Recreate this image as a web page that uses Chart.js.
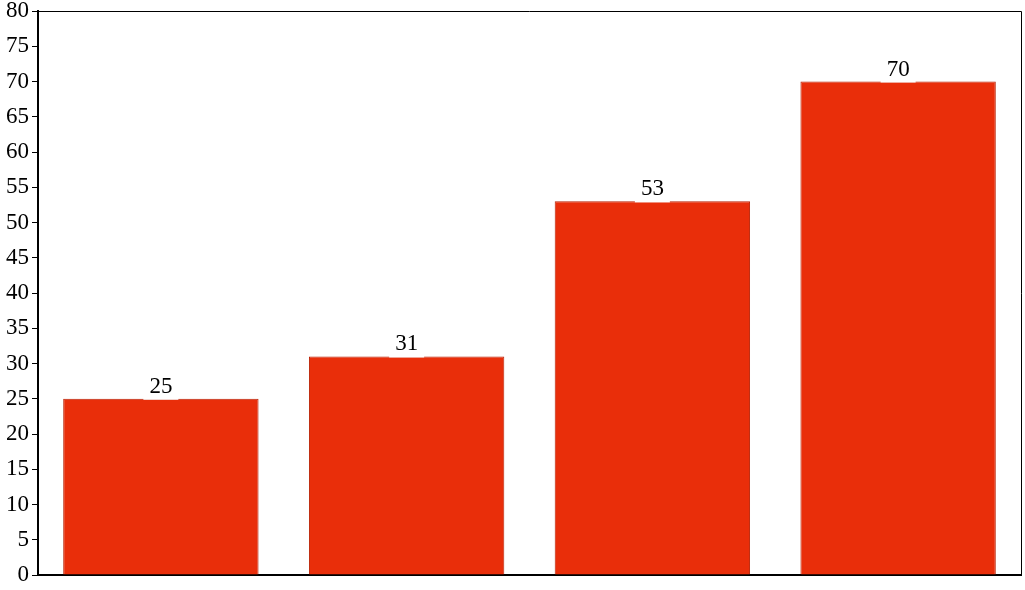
<!DOCTYPE html>
<html><head><meta charset="utf-8">
<script src="https://cdn.jsdelivr.net/npm/chart.js@4"></script>
<style>html,body{margin:0;padding:0;background:#fff}#wrap{width:1025px;height:590px}</style>
</head><body><div id="wrap"><canvas id="c" width="1025" height="590"></canvas></div>
<script>
const categories = ["A", "B", "C", "D"];
const values = [25, 31, 53, 70];
const yTicks = [0, 80, 5];

const frame = {
  id: 'frame',
  afterDraw(chart) {
    const {ctx, chartArea: a} = chart;
    ctx.save();
    ctx.strokeStyle = '#000';
    ctx.lineWidth = 1;
    ctx.beginPath();
    ctx.moveTo(a.left, a.top + 0.5);
    ctx.lineTo(a.right + 0.5, a.top + 0.5);
    ctx.lineTo(a.right + 0.5, a.bottom);
    ctx.stroke();
    ctx.restore();
  }
};
const labels = {
  id: 'labels',
  afterDatasetsDraw(chart) {
    const {ctx} = chart;
    const meta = chart.getDatasetMeta(0);
    ctx.save();
    ctx.font = '23px "Liberation Serif"';
    ctx.textAlign = 'center';
    ctx.textBaseline = 'alphabetic';
    meta.data.forEach((el, i) => {
      const t = String(values[i]);
      const w = ctx.measureText(t).width + 12;
      ctx.fillStyle = '#fff';
      ctx.fillRect(el.x - w / 2, el.y - 24, w, 25);
      ctx.fillStyle = '#000';
      ctx.fillText(t, el.x, el.y - 6);
    });
    ctx.restore();
  }
};

new Chart(document.getElementById('c'), {
  type: 'bar',
  data: {
    labels: categories,
    datasets: [{
      data: values,
      backgroundColor: '#E92E0A',
      borderColor: '#B82206',
      borderWidth: 1,
      barPercentage: 0.795,
      categoryPercentage: 1
    }]
  },
  options: {
    responsive: false,
    animation: false,
    layout: {padding: {left: 0, right: 4, top: 11, bottom: 7}},
    plugins: {legend: {display: false}, tooltip: {enabled: false}},
    scales: {
      x: {
        grid: {display: false},
        border: {color: '#000', width: 2},
        ticks: {display: false}
      },
      y: {
        min: yTicks[0], max: yTicks[1],
        afterFit(s) { s.width = 38; },
        grid: {drawOnChartArea: false, color: '#000', tickLength: 6, tickWidth: 1},
        border: {color: '#000', width: 2},
        ticks: {stepSize: yTicks[2], color: '#000', padding: 3, font: {family: 'Liberation Serif', size: 23, lineHeight: 0.65}}
      }
    }
  },
  plugins: [frame, labels]
});
</script></body></html>
